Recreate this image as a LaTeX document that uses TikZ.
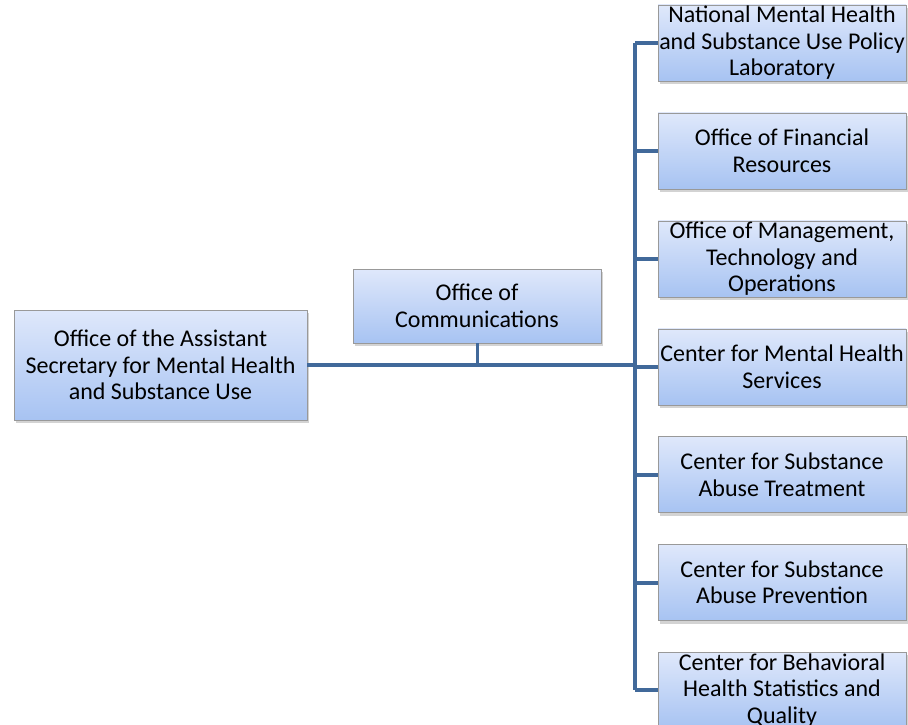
\documentclass[tikz,border=0pt]{standalone}
\usepackage{fontspec}
\setmainfont{Carlito}
\usetikzlibrary{positioning, shadows}
\definecolor{linkblue}{HTML}{41699A}
\definecolor{boxtop}{HTML}{DFE8FB}
\definecolor{boxbottom}{HTML}{A7C3F2}

\begin{document}
\begin{tikzpicture}
    [
        x = 1pt, y = -1pt,
        unit/.style = {
            rectangle, draw=black!40, thin,
            top color=boxtop, bottom color=boxbottom,
            drop shadow={opacity=.35, shadow xshift=2pt, shadow yshift=-3pt},
            minimum width=248pt, minimum height=76pt, inner sep=0pt,
            align=center, font=\fontsize{24}{26.5}\selectfont
            },
        link/.style = {
            draw=linkblue, line width=4pt
            },
        node distance = 31.5pt,
    ]
    \clip (0,0) rectangle (908,725);
    \node[unit, minimum width=293pt, minimum height=110pt] (ash) at (160.5,365)
        {Office of the Assistant\\Secretary for Mental Health\\and Substance Use};
    \node[unit, minimum height=74pt] (comm) at (477,306) {Office of\\Communications};
    \node[unit] (lab) at (782,43) {National Mental Health\\and Substance Use Policy\\Laboratory};
    \node[unit] (ofr) [below=of lab] {Office of Financial\\Resources};
    \node[unit] (omt) [below=of ofr] {Office of Management,\\Technology and\\Operations};
    \node[unit] (cmhs) [below=of omt] {Center for Mental Health\\Services};
    \node[unit] (csat) [below=of cmhs] {Center for Substance\\Abuse Treatment};
    \node[unit] (csap) [below=of csat] {Center for Substance\\Abuse Prevention};
    \node[unit] (cbhsq) [below=of csap] {Center for Behavioral\\Health Statistics and\\Quality};

    \coordinate (trunk) at (635,365);
    \draw[link] (ash.east) -- (ash.east -| trunk);
    \draw[link, line width=3pt] (comm.south) -- (comm.south |- ash.east);
    \draw[link] (lab.west -| trunk) -- (cbhsq.west -| trunk);
    \foreach \n in {lab, ofr, omt, cmhs, csat, csap, cbhsq}
        \draw[link] (\n.west -| trunk) -- (\n.west);
\end{tikzpicture}
\end{document}
